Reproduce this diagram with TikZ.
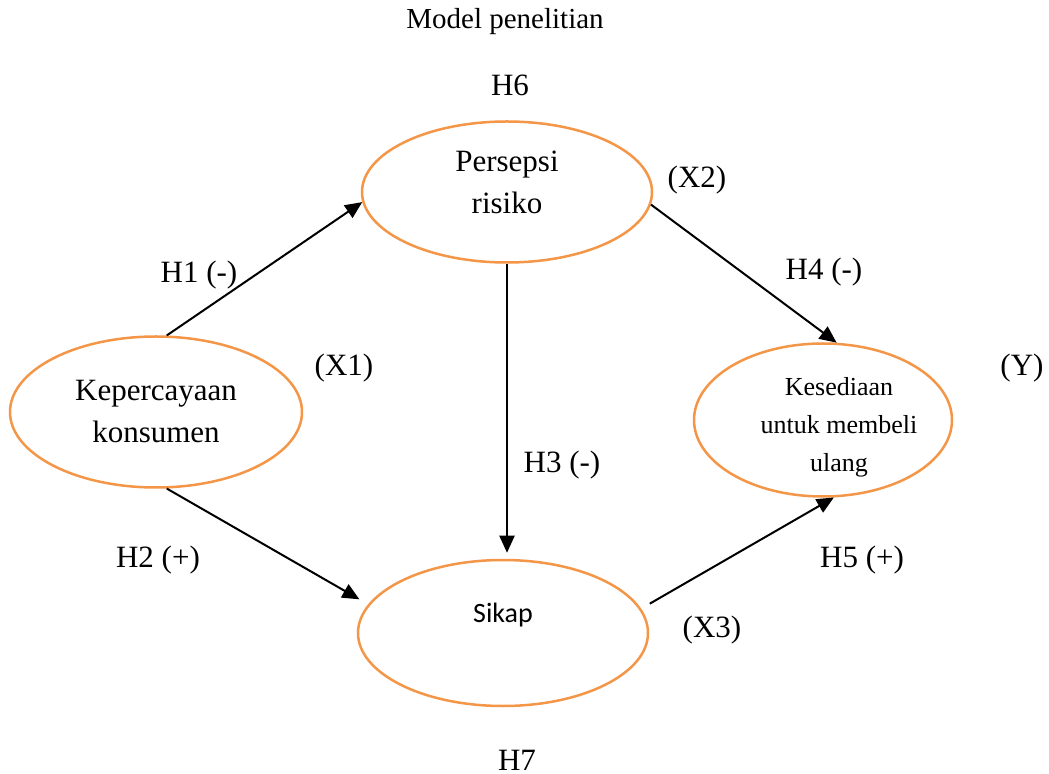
\documentclass[tikz,border=0pt]{standalone}
\usepackage{fontspec}
\setmainfont{Liberation Serif}
\newfontfamily\sikapfont{Carlito}
\usepackage{tikz}
\usetikzlibrary{arrows.meta,positioning,shapes.geometric}
\definecolor{orgline}{RGB}{244,150,72}

\begin{document}
\begin{tikzpicture}[x=0.5pt, y=-0.5pt,
  var/.style={ellipse, draw=orgline, line width=1.25pt, inner sep=0pt, align=center, font=\fontsize{15.5}{21}\selectfont},
  arr/.style={-{Triangle[length=8.5pt,width=7.5pt]}, line width=1pt},
  lbl/.style={font=\fontsize{15.5}{19}\selectfont, inner sep=0pt}
]
\useasboundingbox (0,0) rectangle (1049,774);
\node[var, minimum width=145pt, minimum height=70.5pt] (pers) at (507,192)
  {\raisebox{4pt}[\height][\depth]{\begin{tabular}{@{}c@{}}Persepsi\\risiko\end{tabular}}};
\node[var, minimum width=146pt, minimum height=75.5pt] (kep) at (156,412) {Kepercayaan\\konsumen};
\node[var, minimum width=129pt, minimum height=76.5pt, font=\fontsize{13}{19}\selectfont] (kes) at (823,420)
  {\raisebox{-6pt}[0pt][0pt]{\makebox[0pt]{\begin{tabular}{@{\hspace{16pt}}c@{}}Kesediaan\\untuk membeli\\ulang\end{tabular}}}};
\node[var, minimum width=145pt, minimum height=73pt, font=\sikapfont\fontsize{14}{20}\selectfont] (sikap) at (503,633) {Sikap\\\mbox{}};
% labels
\node[lbl, font=\fontsize{14.5}{17}\selectfont] (title) at (505,22) {Model penelitian};
\node[lbl] (h6) at (510,85) {H6};
\node[lbl] (h7) at (517,760) {H7};
\node[lbl] (h1) at (199,275) {H1 (-)};
\node[lbl] (h2) at (158,560) {H2 (+)};
\node[lbl] (h3) at (562,465) {H3 (-)};
\node[lbl] (h4) at (824,272) {H4 (-)};
\node[lbl] (h5) at (862,560) {H5 (+)};
\node[lbl] (x1) at (344,368) {(X1)};
\node[lbl] (x2) at (697,180) {(X2)};
\node[lbl] (x3) at (712,630) {(X3)};
\node[lbl] (y) at (1022,368) {(Y)};
% paths
\draw[arr] (kep.82) -- (pers.184);
\draw[arr, shorten >=5pt] (kep.-82) -- (sikap.168);
\draw[arr, shorten >=3pt] (pers.south) -- (pers.south |- sikap.north);
\draw[arr] (pers.-5) -- (kes.80);
\draw[arr, shorten <=5pt] (sikap.10) -- (kes.-82);
\end{tikzpicture}
\end{document}
